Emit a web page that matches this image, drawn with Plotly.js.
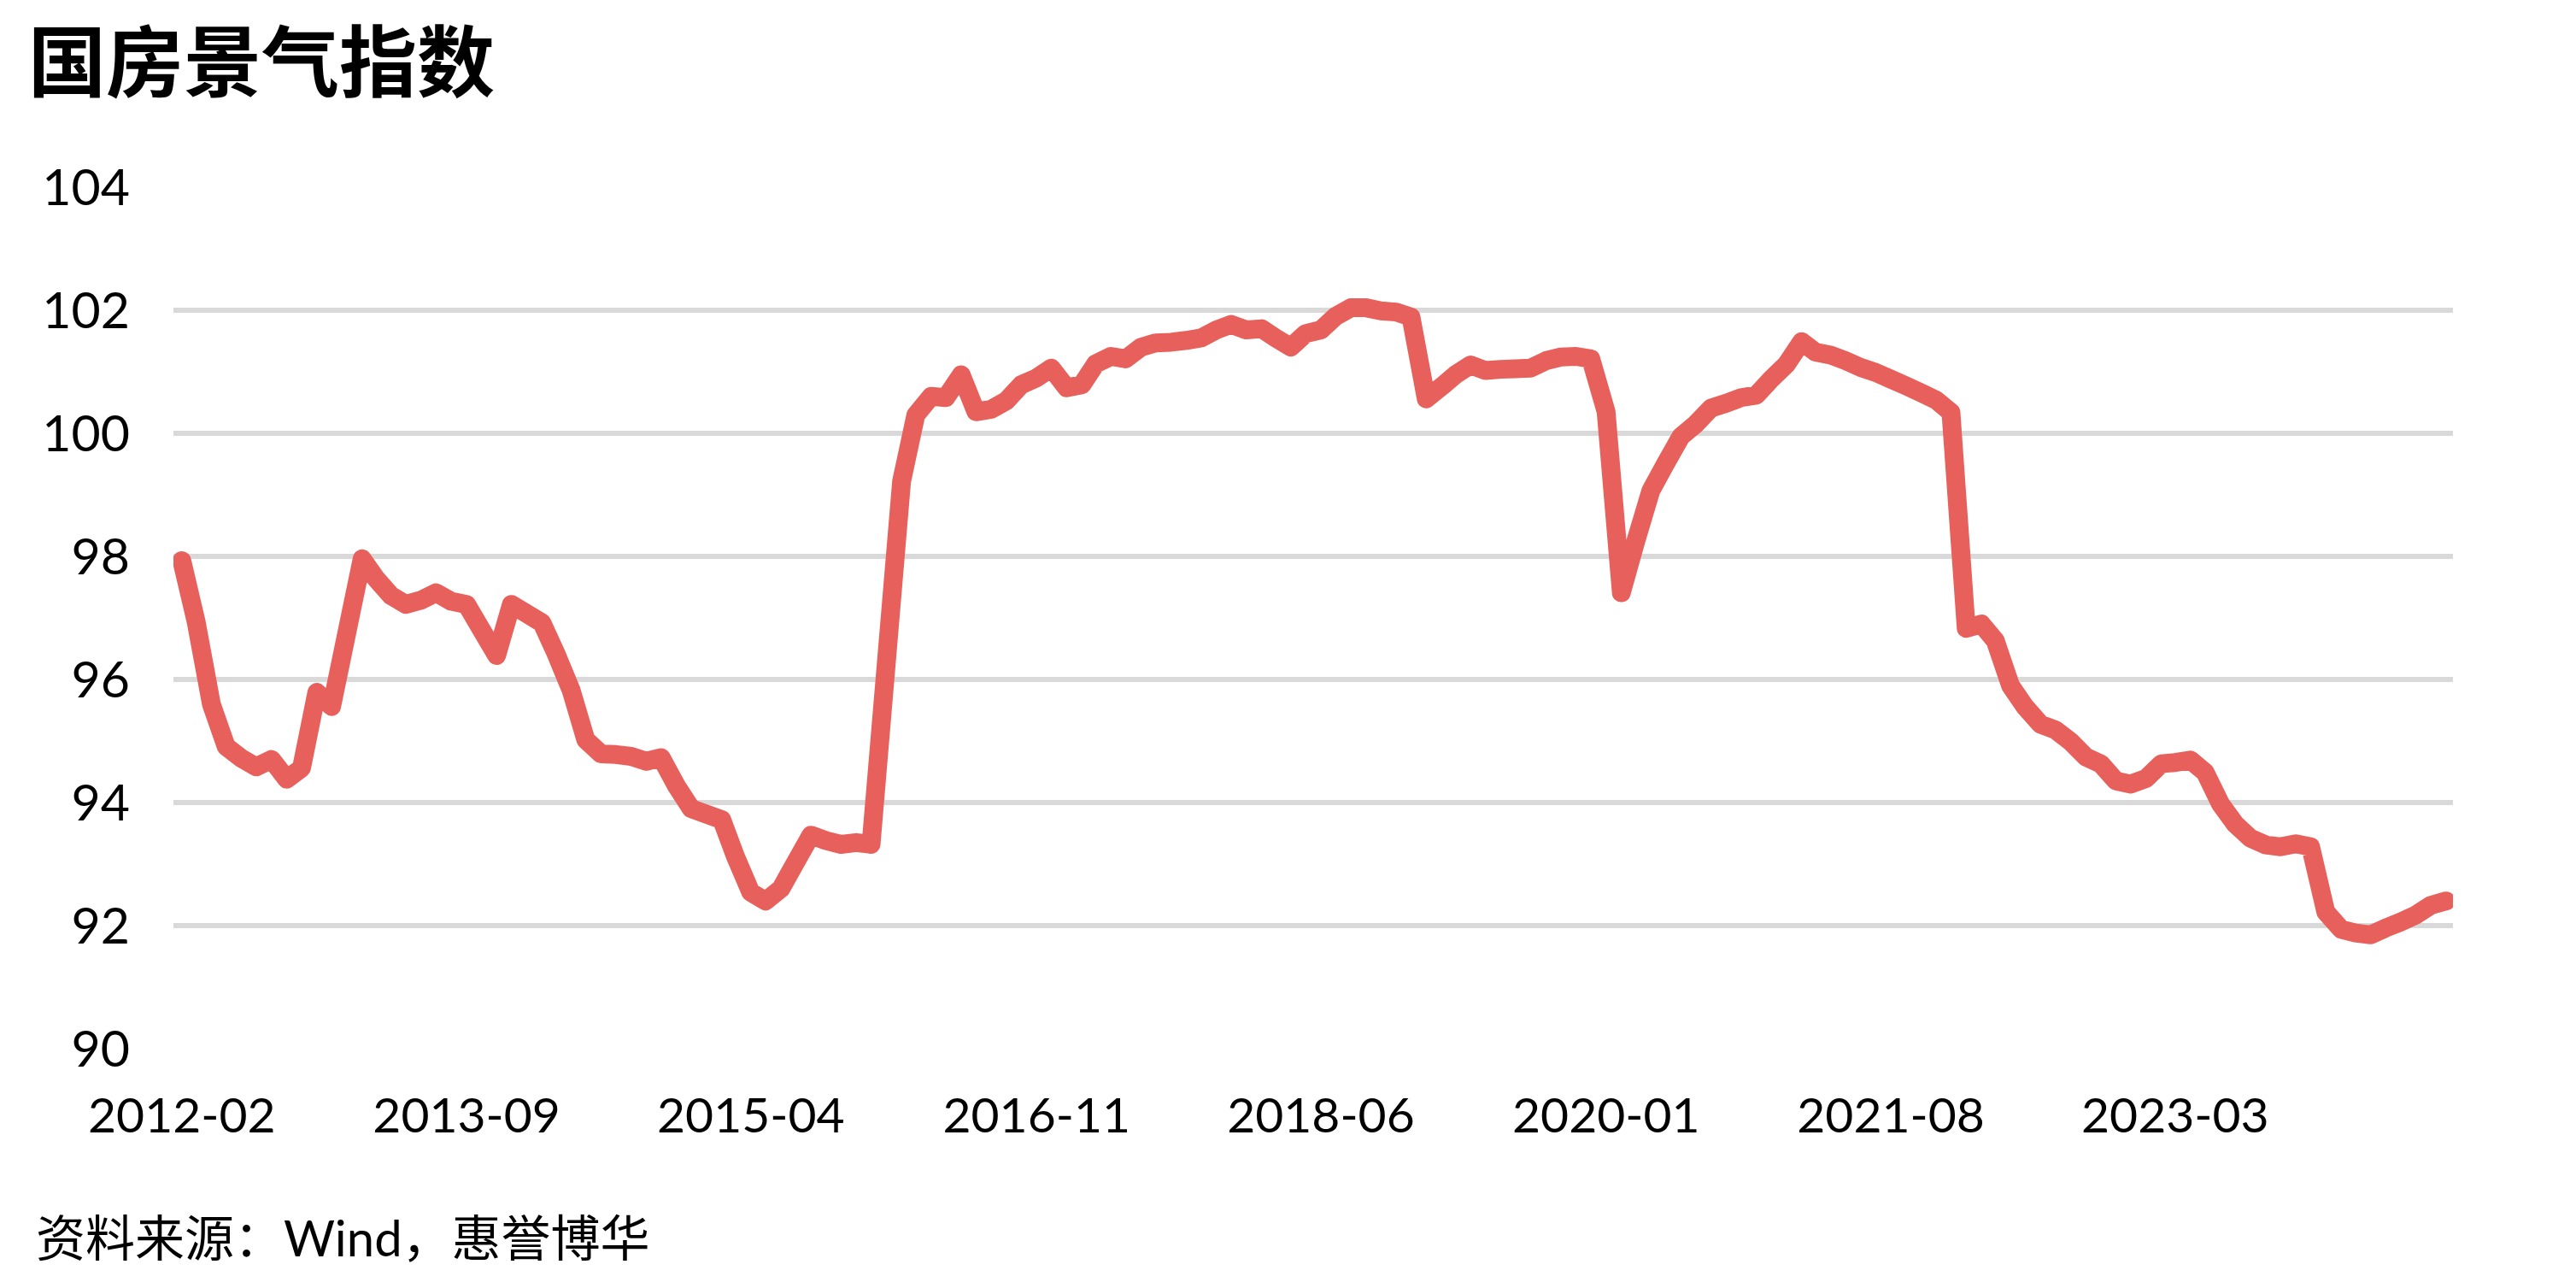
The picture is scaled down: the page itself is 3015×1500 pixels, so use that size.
<!DOCTYPE html>
<html>
<head>
<meta charset="utf-8">
<script src="https://cdn.plot.ly/plotly-3.0.1.min.js"></script>
<style>
  html, body { margin: 0; padding: 0; background: #ffffff; }
  #chart { width: 3015px; height: 1500px; }
  path.js-line { stroke-linejoin: round !important; stroke-linecap: round !important; }
</style>
</head>
<body>
<div id="chart"></div>
<script>
// ---- data ----
const chartTitle = '国房景气指数';
const sourceNote = '资料来源：Wind，惠誉博华';

const months = [
  '2012-02','2012-03','2012-04','2012-05','2012-06','2012-07','2012-08','2012-09','2012-10','2012-11','2012-12',
  '2013-02','2013-03','2013-04','2013-05','2013-06','2013-07','2013-08','2013-09','2013-10','2013-11','2013-12',
  '2014-02','2014-03','2014-04','2014-05','2014-06','2014-07','2014-08','2014-09','2014-10','2014-11','2014-12',
  '2015-02','2015-03','2015-04','2015-05','2015-06','2015-07','2015-08','2015-09','2015-10','2015-11','2015-12',
  '2016-02','2016-03','2016-04','2016-05','2016-06','2016-07','2016-08','2016-09','2016-10','2016-11','2016-12',
  '2017-01','2017-02','2017-03','2017-04','2017-05','2017-06','2017-07','2017-08','2017-09','2017-10','2017-11','2017-12',
  '2018-01','2018-02','2018-03','2018-04','2018-05','2018-06','2018-07','2018-08','2018-09','2018-10','2018-11','2018-12',
  '2019-01','2019-02','2019-03','2019-04','2019-05','2019-06','2019-07','2019-08','2019-09','2019-10','2019-11','2019-12',
  '2020-01','2020-02','2020-03','2020-04','2020-05','2020-06','2020-07','2020-08','2020-09','2020-10','2020-11','2020-12',
  '2021-01','2021-02','2021-03','2021-04','2021-05','2021-06','2021-07','2021-08','2021-09','2021-10','2021-11','2021-12',
  '2022-01','2022-02','2022-03','2022-04','2022-05','2022-06','2022-07','2022-08','2022-09','2022-10','2022-11','2022-12',
  '2023-01','2023-02','2023-03','2023-04','2023-05','2023-06','2023-07','2023-08','2023-09','2023-10','2023-11','2023-12',
  '2024-01','2024-02','2024-03','2024-04','2024-05','2024-06','2024-07','2024-08','2024-09'
];

const indexValues = [
  97.93, 96.94, 95.60, 94.91, 94.72, 94.58, 94.70, 94.38, 94.56, 95.79, 95.56,
  97.96, 97.64, 97.36, 97.22, 97.29, 97.41, 97.27, 97.22, 96.81, 96.39, 97.22,
  96.92, 96.43, 95.83, 95.02, 94.79, 94.78, 94.75, 94.67, 94.73, 94.27, 93.90,
  93.72, 93.12, 92.54, 92.40, 92.60, 93.03, 93.47, 93.38, 93.32, 93.35, 93.32,
  99.22, 100.30, 100.60, 100.58, 100.95, 100.35, 100.39, 100.53, 100.79, 100.90, 101.06,
  100.74, 100.79, 101.13, 101.25, 101.21, 101.40, 101.47, 101.48, 101.51, 101.55, 101.68, 101.77,
  101.68, 101.70, 101.55, 101.40, 101.62, 101.68, 101.90, 102.04, 102.04, 101.99, 101.97, 101.89,
  100.56, 100.76, 100.95, 101.11, 101.02, 101.04, 101.05, 101.06, 101.18, 101.24, 101.25, 101.21,
  100.35, 97.41, 98.24, 99.07, 99.51, 99.95, 100.15, 100.41, 100.49, 100.58, 100.62, 100.88,
  101.12, 101.49, 101.32, 101.27, 101.18, 101.07, 100.99, 100.88, 100.77, 100.66, 100.54, 100.34,
  96.83, 96.90, 96.63, 95.90, 95.55, 95.27, 95.18, 94.99, 94.74, 94.63, 94.35, 94.30,
  94.39, 94.63, 94.65, 94.69, 94.49, 93.98, 93.65, 93.42, 93.31, 93.28, 93.33, 93.28,
  92.22, 91.94, 91.88, 91.85, 91.96, 92.06, 92.17, 92.33, 92.40
];

const yTickValues = [90, 92, 94, 96, 98, 100, 102, 104];
const xTickStart = '2012-02-01';
const xTickStepMonths = 19;
// ---------------------------------------------

const trace = {
  type: 'scatter',
  mode: 'lines',
  x: months,
  y: indexValues,
  line: { color: '#E8605B', width: 22, shape: 'linear', simplify: false },
  hoverinfo: 'x+y'
};

const layout = {
  width: 3015,
  height: 1500,
  paper_bgcolor: '#ffffff',
  plot_bgcolor: '#ffffff',
  showlegend: false,
  margin: { l: 203, r: 144, t: 219, b: 273, pad: 0 },
  title: {
    text: '<b>' + chartTitle + '</b>',
    font: { family: '"Noto Sans CJK SC", "Noto Sans", sans-serif', size: 91, color: '#000000' },
    xref: 'container', yref: 'container',
    x: 33 / 3015, xanchor: 'left',
    y: 1 - 74 / 1500, yanchor: 'middle'
  },
  xaxis: {
    type: 'date',
    range: ['2012-01-15', '2024-09-15'],
    tick0: xTickStart,
    dtick: 'M' + xTickStepMonths,
    tickformat: '%Y-%m',
    showgrid: false,
    zeroline: false,
    showline: false,
    ticks: '',
    ticklabelstandoff: 40,
    tickfont: { family: 'Lato, "Noto Sans", sans-serif', size: 57, color: '#000000' },
    fixedrange: true
  },
  yaxis: {
    range: [90, 104],
    tickvals: yTickValues,
    ticktext: yTickValues.map(String),
    showgrid: true,
    gridcolor: '#d9d9d9',
    gridwidth: 6,
    zeroline: false,
    showline: false,
    ticks: '',
    ticklabelstandoff: 50,
    tickfont: { family: 'Lato, "Noto Sans", sans-serif', size: 59, color: '#000000' },
    fixedrange: true
  },
  annotations: [{
    text: sourceNote,
    xref: 'paper', yref: 'paper',
    x: 0, y: 0,
    xanchor: 'left', yanchor: 'middle',
    xshift: -163, yshift: -220,
    showarrow: false,
    font: { family: 'Lato, "Noto Sans CJK SC", sans-serif', size: 58, color: '#000000' }
  }]
};

Plotly.newPlot('chart', [trace], layout, { displayModeBar: false, staticPlot: true });
</script>
</body>
</html>
